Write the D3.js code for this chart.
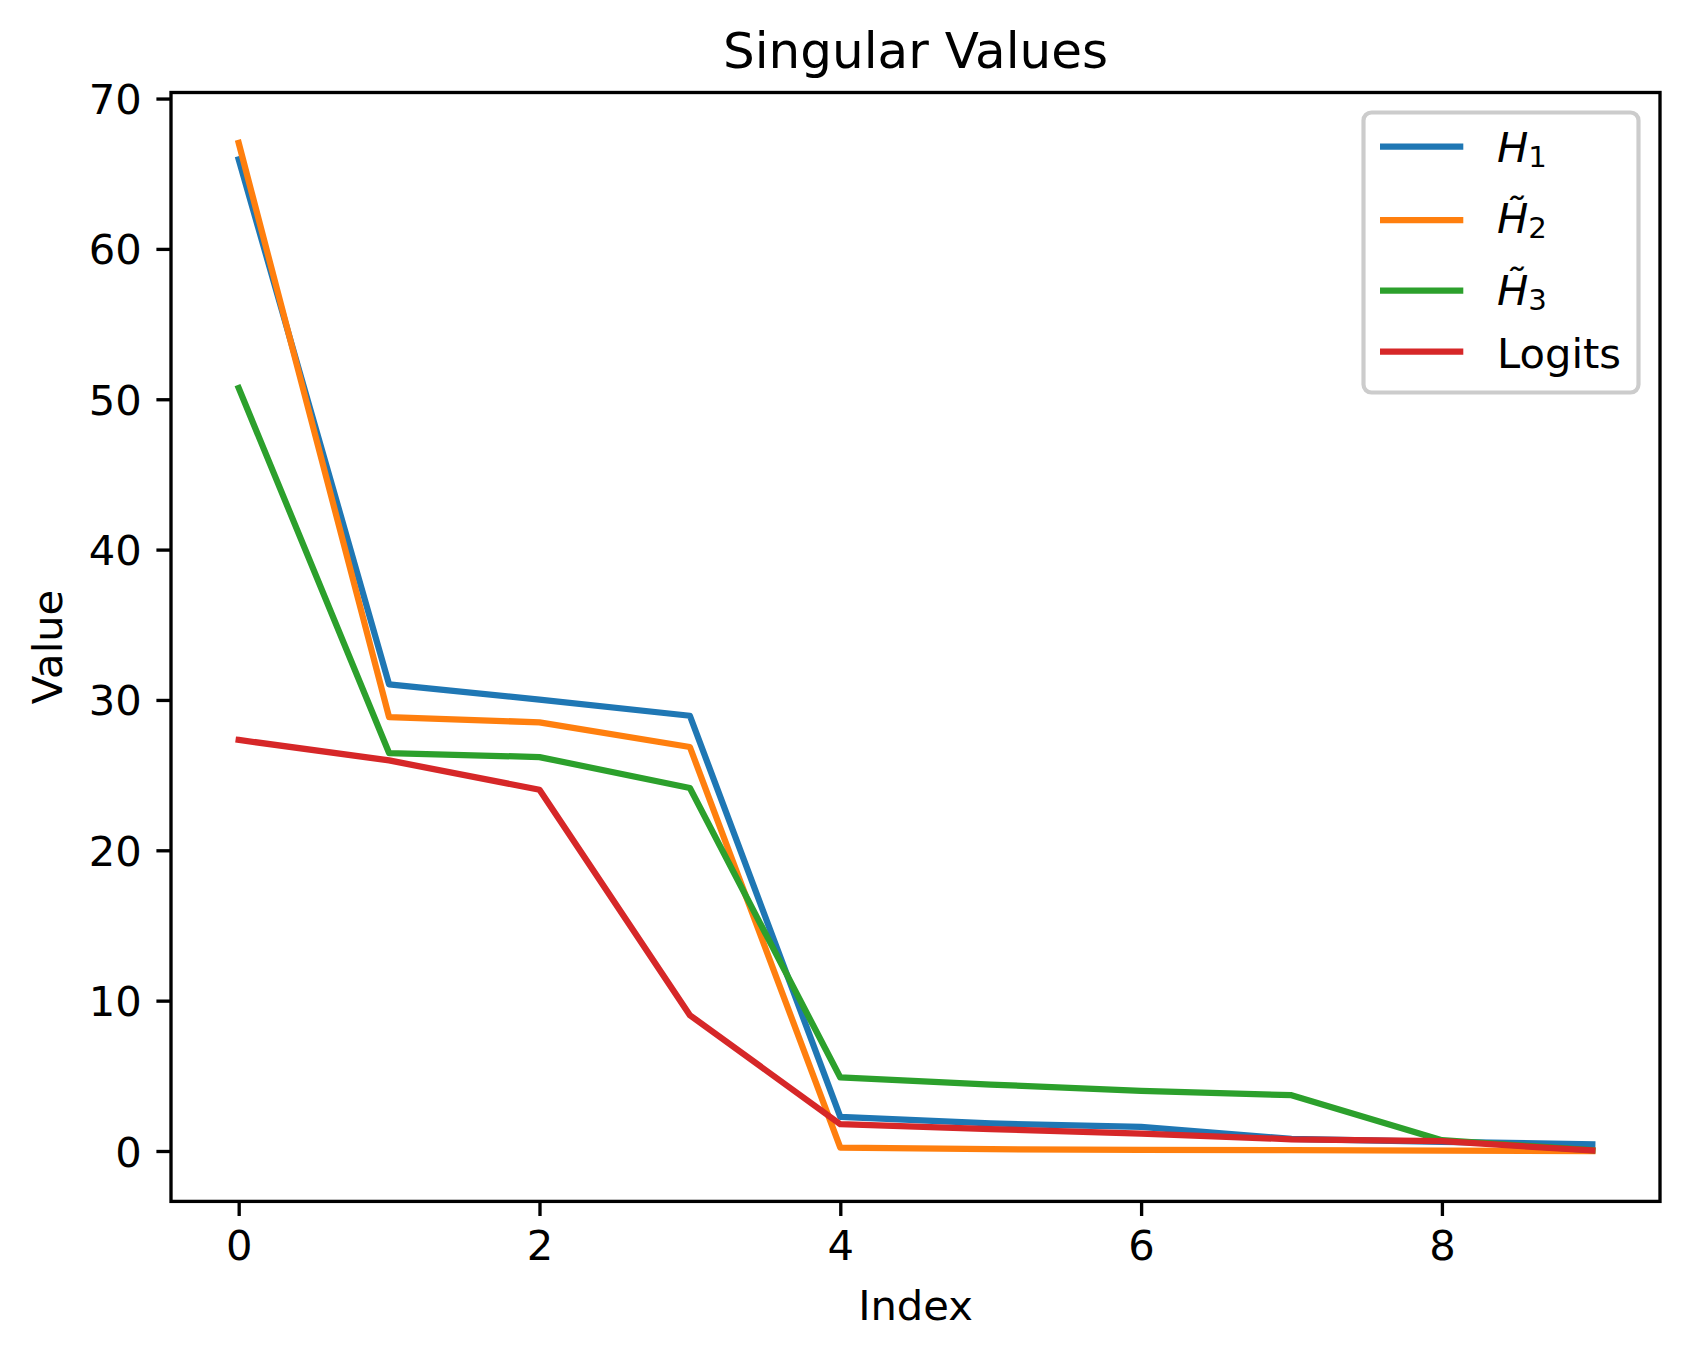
<!DOCTYPE html>
<html>
<head>
<meta charset="utf-8">
<script src="https://cdn.jsdelivr.net/npm/d3@7"></script>
<style>
  html, body { margin: 0; padding: 0; background: #fff; }
  svg { display: block; }
  text { font-family: "DejaVu Sans", sans-serif; }
</style>
</head>
<body>
<svg id="chart" width="1688" height="1361"></svg>
<script>
// ---- data ----
const indices = [0, 1, 2, 3, 4, 5, 6, 7, 8, 9];
const h1     = [65.95, 31.04, 30.02, 28.95, 2.27, 1.83, 1.60, 0.80, 0.60, 0.45];
const h2     = [67.05, 28.86, 28.51, 26.87, 0.23, 0.12, 0.07, 0.05, 0.03, 0.00];
const h3     = [50.75, 26.47, 26.20, 24.14, 4.89, 4.42, 4.00, 3.71, 0.72, 0.05];
const logits = [27.34, 25.98, 24.03, 9.03, 1.78, 1.45, 1.16, 0.78, 0.65, 0.03];
const seriesNames = ["H1", "H2", "H3", "Logits"];
const xTicks = [0, 2, 4, 6, 8];
const yTicks = [0, 10, 20, 30, 40, 50, 60, 70];
const titleText = "Singular Values";
const xLabelText = "Index";
const yLabelText = "Value";

// ---- layout ----
const L = 171, R = 1660, T = 92.5, B = 1201.4;
const colors = ["#1f77b4", "#ff7f0e", "#2ca02c", "#d62728"];
const allSeries = [h1, h2, h3, logits];
const fs = 41.67;

const svg = d3.select("#chart");

const allVals = allSeries.flat();
const [vmin, vmax] = d3.extent(allVals);
const ypad = (vmax - vmin) * 0.05;
const xmin = d3.min(indices), xmax = d3.max(indices);
const xpad = (xmax - xmin) * 0.05;

const x = d3.scaleLinear().domain([xmin - xpad, xmax + xpad]).range([L, R]);
const y = d3.scaleLinear().domain([vmin - ypad, vmax + ypad]).range([B, T]);

// lines
const line = d3.line().x((d, i) => x(indices[i])).y(d => y(d));
svg.append("g").selectAll("path")
  .data(allSeries)
  .join("path")
  .attr("d", d => line(d))
  .attr("fill", "none")
  .attr("stroke", (d, i) => colors[i])
  .attr("stroke-width", 6.25)
  .attr("stroke-linejoin", "round")
  .attr("stroke-linecap", "square");

// axes
const tickLen = 14.6, tickPad = 14.6;
const xAxis = d3.axisBottom(x).tickValues(xTicks).tickFormat(d3.format("d"))
  .tickSize(tickLen).tickPadding(tickPad).tickSizeOuter(0);
const yAxis = d3.axisLeft(y).tickValues(yTicks).tickFormat(d3.format("d"))
  .tickSize(tickLen).tickPadding(tickPad).tickSizeOuter(0);

const gx = svg.append("g").attr("transform", `translate(0,${B})`).call(xAxis);
const gy = svg.append("g").attr("transform", `translate(${L},0)`).call(yAxis);
[gx, gy].forEach(g => {
  g.select(".domain").remove();
  g.selectAll(".tick line").attr("stroke", "#000").attr("stroke-width", 3.33);
  g.selectAll(".tick text").attr("fill", "#000")
    .style("font-family", "'DejaVu Sans', sans-serif").style("font-size", fs + "px");
});
gy.selectAll(".tick text").attr("dy", "0.36em");

// spines
svg.append("rect")
  .attr("x", L).attr("y", T).attr("width", R - L).attr("height", B - T)
  .attr("fill", "none").attr("stroke", "#000").attr("stroke-width", 3.33);

// title & labels
svg.append("text").attr("x", (L + R) / 2).attr("y", 67.5)
  .attr("text-anchor", "middle").style("font-size", "50px").text(titleText);
svg.append("text").attr("x", (L + R) / 2).attr("y", 1320)
  .attr("text-anchor", "middle").style("font-size", fs + "px").text(xLabelText);
svg.append("text")
  .attr("transform", `translate(62,${(T + B) / 2}) rotate(-90)`)
  .attr("text-anchor", "middle").style("font-size", fs + "px").text(yLabelText);

// legend
const lg = svg.append("g");
lg.append("rect")
  .attr("x", 1363.5).attr("y", 112.5).attr("width", 275).attr("height", 280)
  .attr("rx", 8).attr("ry", 8)
  .attr("fill", "rgba(255,255,255,0.8)").attr("stroke", "#cccccc").attr("stroke-width", 4.17);

const rowLineY = [146.7, 220, 290.7, 351.7];
const rowBase = [162.3, 233.3, 305, 368.3];
const subs = ["1", "2", "3", null];
const tilde = [false, true, true, false];
seriesNames.forEach((name, i) => {
  lg.append("line")
    .attr("x1", 1380).attr("x2", 1463.3)
    .attr("y1", rowLineY[i]).attr("y2", rowLineY[i])
    .attr("stroke", colors[i]).attr("stroke-width", 6.25).attr("stroke-linecap", "butt");
  const tx = 1497;
  if (subs[i] === null) {
    lg.append("text").attr("x", tx).attr("y", rowBase[i])
      .style("font-size", fs + "px").text(name);
  } else {
    const t = lg.append("text").attr("x", tx).attr("y", rowBase[i])
      .style("font-size", fs + "px");
    t.append("tspan").style("font-style", "italic").text(tilde[i] ? "H\u0303" : "H");
    t.append("tspan").attr("dy", 5).style("font-size", (fs * 0.7) + "px").text(subs[i]);
  }
});
</script>
</body>
</html>
